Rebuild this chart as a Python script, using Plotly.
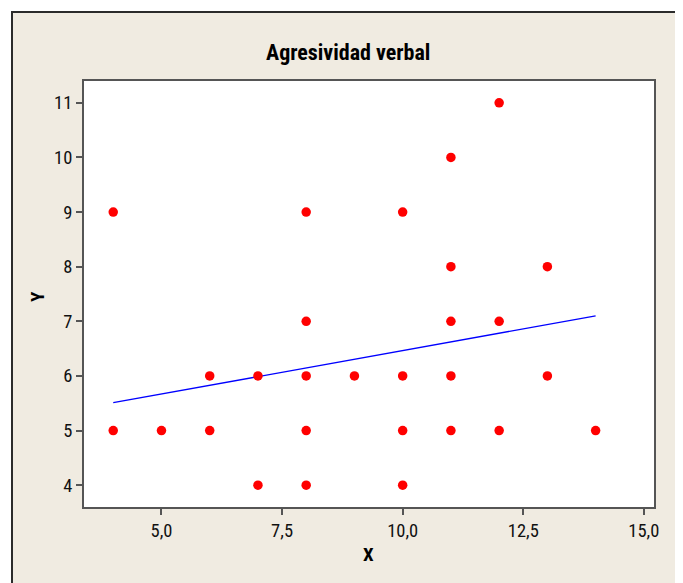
import plotly.graph_objects as go

# Data
x_vals = [4, 4, 5, 6, 6, 7, 7, 8, 8, 8, 8, 8, 9, 10, 10, 10, 10, 11, 11, 11, 11, 11, 12, 12, 12, 13, 13, 14]
y_vals = [9, 5, 5, 6, 5, 6, 4, 9, 7, 6, 5, 4, 6, 9, 6, 5, 4, 10, 8, 7, 6, 5, 11, 7, 5, 8, 6, 5]

# Fitted line endpoints as drawn in the reference
fit_x = [4, 14]
fit_y = [5.51, 7.10]

x_tickvals = [5, 7.5, 10, 12.5, 15]
x_ticktext = ["5,0", "7,5", "10,0", "12,5", "15,0"]
y_tickvals = [4, 5, 6, 7, 8, 9, 10, 11]
y_ticktext = ["4", "5", "6", "7", "8", "9", "10", "11"]

title_text = "Agresividad verbal"
x_title = "X"
y_title = "Y"

FONT = "Liberation Sans Narrow, Arial Narrow, Roboto Condensed, DejaVu Sans Condensed, sans-serif"
BEIGE = "#F0EBE1"

OFF = 8  # page body margin in the browser
WIN_W, WIN_H = 683, 583
W, H = WIN_W - OFF, WIN_H - OFF
# plot area in window pixels: left 84, right 654, top 81, bottom 507
ML = 84 - OFF
MT = 81 - OFF
MR = WIN_W - 654
MB = WIN_H - 507
PW = W - ML - MR
PH = H - MT - MB


def px(xw):
    return (xw - OFF - ML) / PW


def py(yw):
    return (H - MB - (yw - OFF)) / PH


fig = go.Figure()
fig.add_trace(go.Scatter(
    x=fit_x, y=fit_y, mode="lines",
    line=dict(color="#0000FF", width=1.3),
    hoverinfo="skip", showlegend=False,
))
fig.add_trace(go.Scatter(
    x=x_vals, y=y_vals, mode="markers",
    marker=dict(color="#FF0000", size=9.5, line=dict(width=0)),
    showlegend=False,
))

shapes = [
    # white strip at top
    dict(type="rect", xref="paper", yref="paper", x0=px(-20), x1=px(WIN_W + 20), y0=py(11), y1=py(-20),
         fillcolor="white", line=dict(width=0), layer="below"),
    # white strip at left
    dict(type="rect", xref="paper", yref="paper", x0=px(-20), x1=px(11), y0=py(WIN_H + 20), y1=py(-20),
         fillcolor="white", line=dict(width=0), layer="below"),
    # frame border lines
    dict(type="line", xref="paper", yref="paper", x0=px(11), x1=px(WIN_W + 20), y0=py(12), y1=py(12),
         line=dict(color="#2b2b2b", width=2)),
    dict(type="line", xref="paper", yref="paper", x0=px(12), x1=px(12), y0=py(11), y1=py(WIN_H + 20),
         line=dict(color="#2b2b2b", width=2)),
]

annotations = [
    dict(text=f"<b>{title_text}</b>", xref="paper", yref="paper", x=px(347.5), y=py(53),
         xanchor="center", yanchor="middle", showarrow=False,
         font=dict(family=FONT, size=22, color="#000000")),
    dict(text=f"<b>{x_title}</b>", xref="paper", yref="paper", x=px(368), y=py(554),
         xanchor="center", yanchor="middle", showarrow=False,
         font=dict(family=FONT, size=19, color="#000000")),
    dict(text=f"<b>{y_title}</b>", xref="paper", yref="paper", x=px(37), y=py(296),
         xanchor="center", yanchor="middle", showarrow=False, textangle=-90,
         font=dict(family=FONT, size=19, color="#000000")),
]

TICKFONT = dict(family=FONT, size=18.5, color="#111111")

fig.update_layout(
    width=W, height=H,
    margin=dict(l=ML, r=MR, t=MT, b=MB, pad=0),
    paper_bgcolor=BEIGE,
    plot_bgcolor="#FFFFFF",
    shapes=shapes,
    annotations=annotations,
    font=dict(family=FONT, size=18, color="#111111"),
    xaxis=dict(
        range=[3.394, 15.21], tickvals=x_tickvals, ticktext=x_ticktext,
        showgrid=False, zeroline=False,
        showline=True, mirror=True, linecolor="#555555", linewidth=2,
        ticks="outside", ticklen=6, tickwidth=1.5, tickcolor="#555555",
        tickfont=TICKFONT,
    ),
    yaxis=dict(
        range=[3.6, 11.4], tickvals=y_tickvals, ticktext=y_ticktext,
        showgrid=False, zeroline=False,
        showline=True, mirror=True, linecolor="#555555", linewidth=2,
        ticks="outside", ticklen=6, tickwidth=1.5, tickcolor="#555555",
        tickfont=TICKFONT,
    ),
)

fig.write_html("out.html")
